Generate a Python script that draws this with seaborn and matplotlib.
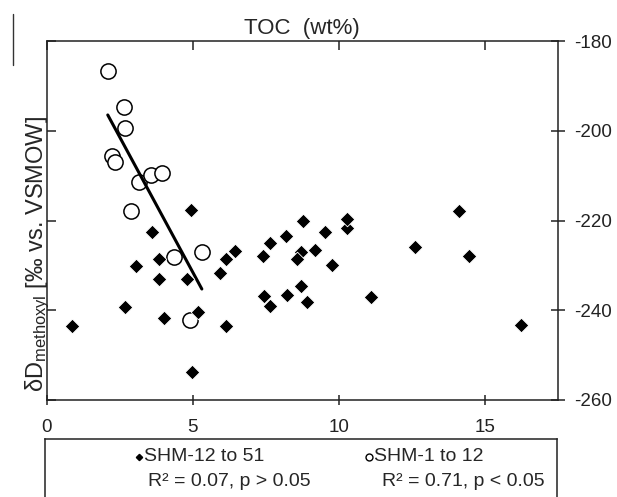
import numpy as np
import pandas as pd
import seaborn as sns
import matplotlib.pyplot as plt
from matplotlib.lines import Line2D

# values: TOC (wt%) vs dD methoxyl (permil vs VSMOW)
# SHM-12 to 51 (diamonds)
toc_lower = [0.87, 2.68, 3.05, 3.60, 3.85, 3.85, 4.01, 4.80, 4.93, 4.99,
             5.19, 5.93, 6.12, 6.15, 6.44, 7.40, 7.45, 7.65, 7.65, 8.20,
             8.22, 8.70, 8.56, 8.71, 8.77, 8.90, 9.17, 9.53, 9.76, 10.27,
             10.27, 11.10, 12.59, 14.10, 14.45, 16.23]
dd_lower = [-243.6, -239.2, -230.1, -222.6, -228.6, -233.0, -241.8, -233.0, -217.7, -253.8,
            -240.5, -231.7, -228.6, -243.6, -226.7, -228.0, -236.9, -225.0, -239.0, -223.4,
            -236.7, -227.0, -228.5, -234.7, -220.2, -238.2, -226.6, -222.6, -229.9, -221.7,
            -219.7, -237.0, -225.9, -217.9, -227.8, -243.3]

# SHM-1 to 12 (open circles)
toc_upper = [2.09, 2.65, 2.69, 2.24, 2.35, 3.17, 3.57, 3.95, 2.88, 4.34, 5.31, 4.91]
dd_upper = [-186.7, -194.6, -199.3, -205.6, -207.0, -211.5, -209.9, -209.5, -217.8, -228.2,
            -227.1, -242.1]

x_ticks = [0, 5, 10, 15]
x_ticklabels = ['0', '5', '10', '15']
y_ticks = [-260, -240, -220, -200, -180]
y_ticklabels = ['-260', '-240', '-220', '-200', '-180']

group_labels = ['SHM-12 to 51', 'SHM-1 to 12']
stat_labels = ['R\u00b2 = 0.07, p > 0.05', 'R\u00b2 = 0.71, p < 0.05']

lower = pd.DataFrame({'toc': toc_lower, 'dd': dd_lower})
upper = pd.DataFrame({'toc': toc_upper, 'dd': dd_upper})

sns.set_theme(style='ticks')
plt.rcParams['font.family'] = ['Liberation Sans', 'DejaVu Sans']
plt.rcParams['mathtext.fontset'] = 'custom'
plt.rcParams['mathtext.rm'] = 'Liberation Sans'
plt.rcParams['mathtext.it'] = 'Liberation Sans:italic'

W, H = 617, 497
fig = plt.figure(figsize=(W / 100, H / 100), dpi=100)
ax = fig.add_axes([46.7 / W, 1 - 400 / H, (558 - 46.7) / W, (400 - 41) / H])

# open circles, regression line, then diamonds on top
sns.scatterplot(data=upper, x='toc', y='dd', ax=ax, marker='o', s=120,
                facecolor='white', edgecolor='black', linewidth=1.1, zorder=2)
sns.regplot(data=upper, x='toc', y='dd', ax=ax, scatter=False, ci=None,
            color='black', line_kws={'lw': 2.2, 'zorder': 3})
sns.scatterplot(data=lower, x='toc', y='dd', ax=ax, marker='D', s=55,
                color='black', edgecolor='white', linewidth=0.6, zorder=4)

ax.set_xlim(0, 17.5)
ax.set_ylim(-260, -180)
ax.set_xlabel('')
ax.set_ylabel('')

ax.set_xticks(x_ticks)
ax.set_xticklabels(x_ticklabels)
ax.set_yticks(y_ticks)
ax.set_yticklabels(y_ticklabels)

for s in ax.spines.values():
    s.set_visible(True)
    s.set_linewidth(1.1)
    s.set_color('#222222')

ax.tick_params(axis='x', bottom=True, top=True, direction='inout', length=7.5,
               width=1.1, labelsize=13.5, pad=10, colors='#222222')
ax.tick_params(axis='y', left=True, right=True, labelleft=False, labelright=True,
               direction='inout', length=9.5, width=1.1, labelsize=13.5, pad=7,
               colors='#222222')
# left ticks point inward, top ticks point down (inward)
for t in ax.yaxis.get_major_ticks():
    t.tick1line.set_marker(1)
    t.tick1line.set_markersize(6.5)
for t in ax.xaxis.get_major_ticks():
    t.tick2line.set_marker(3)
    t.tick2line.set_markersize(6.5)

ax.set_title('TOC  (wt%)', fontsize=16, pad=5)

fig.text(43 / W, 1 - 392 / H, r'δD$_{\mathrm{methoxyl}}$ [‰ vs. VSMOW]',
         rotation=90, rotation_mode='anchor', ha='left', va='baseline', fontsize=17)

# thin stray rule at the top left of the original figure
fig.add_artist(Line2D([13 / W, 13 / W], [1 - 14 / H, 1 - 65 / H], color='#333333', lw=1))

# legend box below the plot (bottom edge cut off in the original)
lax = fig.add_axes([45 / W, 0, (557 - 45) / W, (H - 439) / H])
lax.set_xlim(0, 1)
lax.set_ylim(0, 1)
lax.set_xticks([])
lax.set_yticks([])
lax.spines['bottom'].set_visible(False)
for k in ['left', 'right', 'top']:
    lax.spines[k].set_linewidth(1.1)
    lax.spines[k].set_color('#222222')

lax.plot([0.184], [0.69], marker='D', ms=3.2, color='black', ls='none')
lax.text(0.194, 0.69, group_labels[0], fontsize=14, va='center', ha='left')
lax.text(0.201, 0.27, stat_labels[0], fontsize=14, va='center', ha='left')
lax.plot([0.632], [0.69], marker='o', ms=5, mfc='white', mec='black', mew=1, ls='none')
lax.text(0.642, 0.69, group_labels[1], fontsize=14, va='center', ha='left')
lax.text(0.658, 0.27, stat_labels[1], fontsize=14, va='center', ha='left')

fig.savefig('out.png', dpi=100)
